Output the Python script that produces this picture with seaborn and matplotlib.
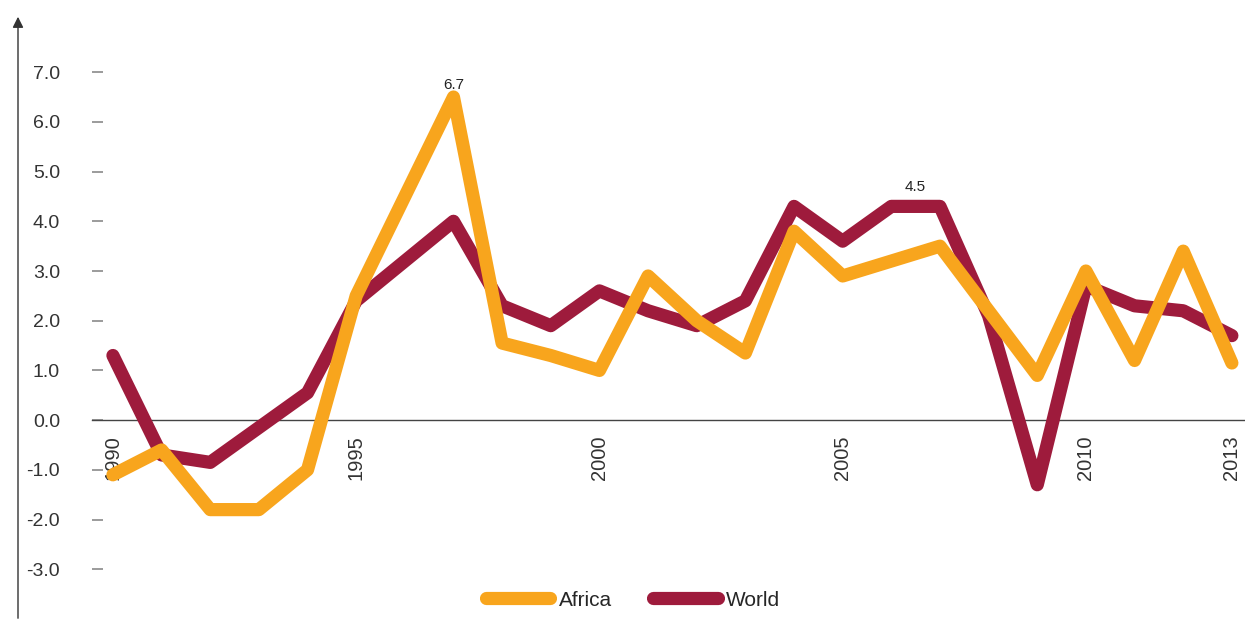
import pandas as pd
import numpy as np
import matplotlib
matplotlib.use('Agg')
import matplotlib.pyplot as plt
import seaborn as sns

# %% data (annual % change)
years = list(range(1990, 2014))
africa = [-1.1, -0.6, -1.8, -1.8, -1.0, 2.5, 4.5, 6.5, 1.55, 1.3, 1.0, 2.9,
          2.0, 1.35, 3.8, 2.9, 3.2, 3.5, 2.2, 0.9, 3.0, 1.2, 3.4, 1.15]
world = [1.3, -0.7, -0.85, -0.15, 0.55, 2.4, 3.2, 4.0, 2.3, 1.9, 2.6, 2.2,
         1.9, 2.4, 4.3, 3.6, 4.3, 4.3, 2.1, -1.3, 2.7, 2.3, 2.2, 1.7]
xtick_years = [1990, 1995, 2000, 2005, 2010, 2013]
yticks = [-3, -2, -1, 0, 1, 2, 3, 4, 5, 6, 7]
peak_labels = [(1997, 6.5, '6.7'), (2006.5, 4.3, '4.5')]

df = pd.DataFrame({'year': years * 2,
                   'value': africa + world,
                   'region': ['Africa'] * len(years) + ['World'] * len(years)})

sns.set_style('white')
plt.rcParams['font.family'] = ['Liberation Sans', 'DejaVu Sans']

colors = {'Africa': '#F8A51D', 'World': '#9E1B3C'}

fig = plt.figure(figsize=(12.45, 6.21), dpi=100)
ax = fig.add_axes([92 / 1245, 6 / 621, 1153 / 1245, 600 / 621])

# world first so the orange line sits on top
for name in ['World', 'Africa']:
    sns.lineplot(data=df[df['region'] == name], x='year', y='value', ax=ax,
                 color=colors[name], lw=9.5, label=name,
                 solid_capstyle='round', solid_joinstyle='round')

ax.set_xlim(1989.57, 2013.27)
ax.set_ylim(-3.92, 8.15)

for s in ['top', 'right', 'left']:
    ax.spines[s].set_visible(False)
ax.spines['bottom'].set_position(('data', 0))
ax.spines['bottom'].set_color('#444444')
ax.spines['bottom'].set_linewidth(1)
ax.spines['bottom'].set_zorder(1)

ax.set_xticks(xtick_years)
ax.set_xticklabels([str(y) for y in xtick_years], rotation=90, fontsize=14.5, color='#333333')
ax.tick_params(axis='x', length=0, pad=11)

ax.set_yticks(yticks)
ax.set_yticklabels([f'{v:.1f}' for v in yticks], fontsize=14, color='#333333')
ax.tick_params(axis='y', left=True, direction='in', length=8, width=1.2,
               color='#8a8a8a', pad=23)
ax.set_xlabel('')
ax.set_ylabel('')

for x, y, txt in peak_labels:
    ax.annotate(txt, (x, y), xytext=(0, 9 if txt == '6.7' else 14), textcoords='offset points',
                ha='center', va='center', fontsize=11, color='#222222')

# vertical axis with arrow head
ax.annotate('', xy=(18, 607), xycoords='figure pixels', xytext=(18, 0),
            textcoords='figure pixels',
            arrowprops=dict(arrowstyle='-|>', color='#333333', lw=1, mutation_scale=16))

ax.get_legend().remove()
handles, labels = ax.get_legend_handles_labels()
order = [labels.index('Africa'), labels.index('World')]
fig.legend([handles[i] for i in order], [labels[i] for i in order],
           loc='center', bbox_to_anchor=(633 / 1245, 1 - 600 / 621), ncol=2,
           frameon=False, fontsize=15, handlelength=3.1, handletextpad=0.4,
           columnspacing=2.0)

fig.savefig('out.png', dpi=100)
